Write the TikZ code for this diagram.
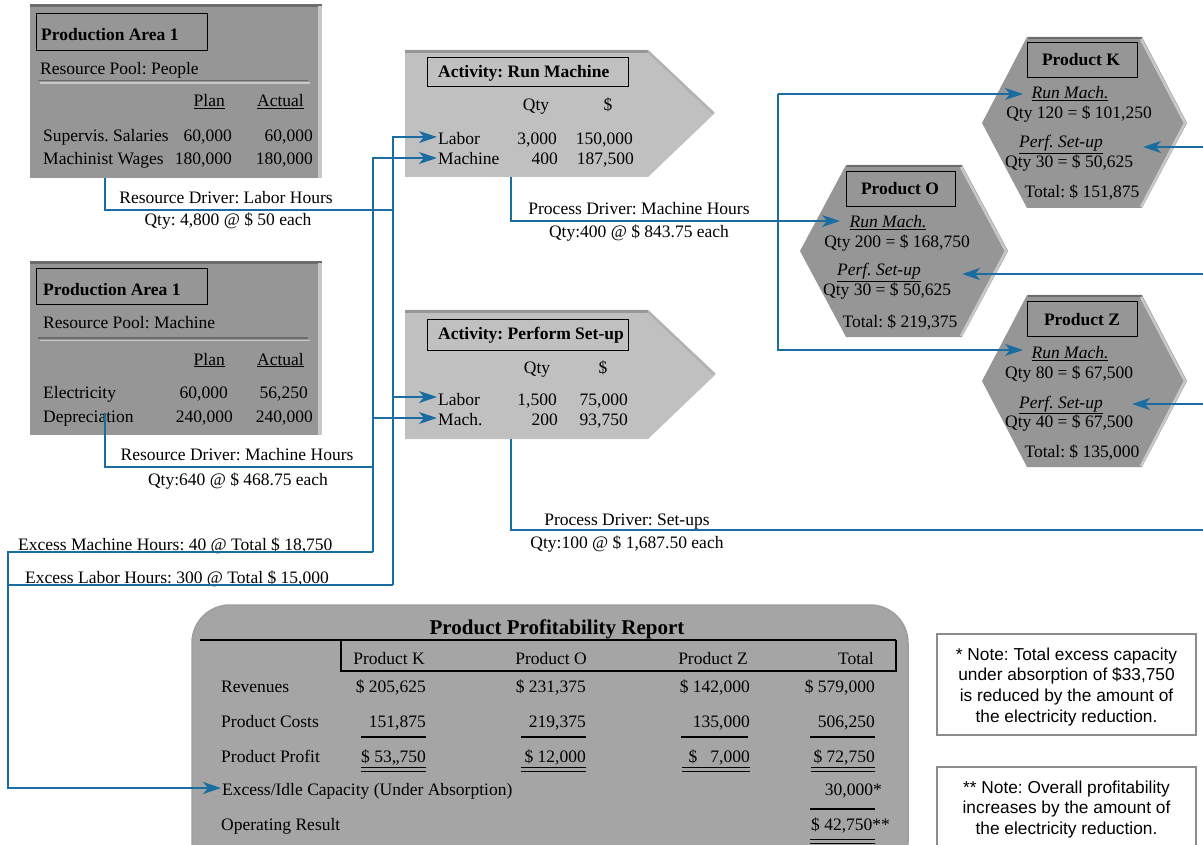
\documentclass[tikz,border=0pt]{standalone}
\usepackage{fontspec}
\setmainfont{Liberation Serif}
\newfontfamily\notefont{Liberation Sans}
\usetikzlibrary{arrows.meta}
\frenchspacing

\definecolor{linkblue}{RGB}{27,108,160}
\definecolor{poolgray}{RGB}{150,150,150}
\definecolor{actgray}{RGB}{192,192,192}
\definecolor{repgray}{RGB}{165,165,165}
\definecolor{edgedark}{RGB}{108,108,108}
\definecolor{edgelight}{RGB}{200,200,200}
\definecolor{actedge}{RGB}{150,150,150}
\definecolor{notegray}{RGB}{140,140,140}

\begin{document}
\begin{tikzpicture}[x=1pt,y=-1pt,
  txt/.style={inner sep=0pt, font=\fontsize{17.5}{21}\selectfont},
  hd/.style={inner sep=0pt, font=\fontsize{17.5}{21}\selectfont\bfseries},
  rep/.style={inner sep=0pt, font=\fontsize{17.5}{21}\selectfont},
  reptitle/.style={inner sep=0pt, font=\fontsize{21}{25}\selectfont\bfseries},
  notetxt/.style={inner sep=0pt, align=center, font=\notefont\fontsize{17.3}{20.7}\selectfont},
  titlebox/.style={draw=black, line width=0.9pt},
  rule/.style={draw=black, line width=1.6pt},
  conn/.style={draw=linkblue, line width=1.8pt},
  arr/.style={conn, -{Stealth[length=18pt,width=12pt,inset=5pt]}},
]
\useasboundingbox (0,0) rectangle (1203,845);
\fill[white] (0,0) rectangle (1203,845);

% ---------- resource pool: people ----------
\fill[poolgray] (30,5) rectangle (322,178);
\fill[edgedark] (30,4) rectangle (322,7);
\fill[edgelight] (318,6) rectangle (322,178);
\draw[titlebox] (36,13) rectangle (207,50);
\node[hd, anchor=base west] (paTitle) at (41,41) {Production Area 1};
\node[txt, anchor=base west] (paPool) at (40,75) {Resource Pool: People};
\draw[edgedark, line width=1.3pt] (38,80.5) -- (308,80.5);
\draw[edgelight, line width=1.3pt] (40,83) -- (310,83);
\node[txt, anchor=base east] (paPlan) at (225,107) {\underline{Plan}};
\node[txt, anchor=base east] (paActual) at (304,107) {\underline{Actual}};
\node[txt, anchor=base west] (paSup) at (43,142) {Supervis. Salaries};
\node[txt, anchor=base east] (paSupP) at (232,142) {60,000};
\node[txt, anchor=base east] (paSupA) at (313,142) {60,000};
\node[txt, anchor=base west] (paMach) at (43,165) {Machinist Wages};
\node[txt, anchor=base east] (paMachP) at (232,165) {180,000};
\node[txt, anchor=base east] (paMachA) at (313,165) {180,000};

% ---------- resource pool: machine ----------
\fill[poolgray] (30,262) rectangle (322,435);
\fill[edgedark] (30,261) rectangle (322,264);
\fill[edgelight] (318,263) rectangle (322,435);
\draw[titlebox] (36,268) rectangle (207,304);
\node[hd, anchor=base west] (pbTitle) at (43,296) {Production Area 1};
\node[txt, anchor=base west] (pbPool) at (43,328) {Resource Pool: Machine};
\draw[edgedark, line width=1.3pt] (38,338) -- (308,338);
\draw[edgelight, line width=1.3pt] (40,340.5) -- (310,340.5);
\node[txt, anchor=base east] (pbPlan) at (225,365) {\underline{Plan}};
\node[txt, anchor=base east] (pbActual) at (304,365) {\underline{Actual}};
\node[txt, anchor=base west] (pbElec) at (43,398) {Electricity};
\node[txt, anchor=base east] (pbElecP) at (228,398) {60,000};
\node[txt, anchor=base east] (pbElecA) at (308,398) {56,250};
\node[txt, anchor=base west] (pbDep) at (43,422) {Depreciation};
\node[txt, anchor=base east] (pbDepP) at (233,422) {240,000};
\node[txt, anchor=base east] (pbDepA) at (313,422) {240,000};

% ---------- activity: run machine ----------
\fill[actgray] (405,50) -- (648,50) -- (715,113) -- (648,177) -- (405,177) -- cycle;
\draw[actedge, line width=3pt] (405,51.5) -- (648,51.5);
\draw[black!30, line width=2.5pt] (648,51.5) -- (713,113);
\draw[titlebox] (427,57) rectangle (628,86);
\node[hd, anchor=base west] (rmTitle) at (438,78) {Activity: Run Machine};
\node[txt, anchor=base] (rmQty) at (536,111) {Qty};
\node[txt, anchor=base] (rmUsd) at (608,111) {\$};
\node[txt, anchor=base west] (rmLabor) at (438,145) {Labor};
\node[txt, anchor=base east] (rmLaborQ) at (557,145) {3,000};
\node[txt, anchor=base east] (rmLaborV) at (633,145) {150,000};
\node[txt, anchor=base west] (rmMach) at (438,165) {Machine};
\node[txt, anchor=base east] (rmMachQ) at (558,165) {400};
\node[txt, anchor=base east] (rmMachV) at (634,165) {187,500};

% ---------- activity: perform set-up ----------
\fill[actgray] (405,310) -- (648,310) -- (716,374) -- (648,439) -- (405,439) -- cycle;
\draw[actedge, line width=3pt] (405,311.5) -- (648,311.5);
\draw[black!30, line width=2.5pt] (648,311.5) -- (714,374);
\draw[titlebox] (427,319) rectangle (628,350);
\node[hd, anchor=base west] (psTitle) at (438,339) {Activity: Perform Set-up};
\node[txt, anchor=base] (psQty) at (537,373) {Qty};
\node[txt, anchor=base] (psUsd) at (603,373) {\$};
\node[txt, anchor=base west] (psLabor) at (438,405) {Labor};
\node[txt, anchor=base east] (psLaborQ) at (557,405) {1,500};
\node[txt, anchor=base east] (psLaborV) at (628,405) {75,000};
\node[txt, anchor=base west] (psMach) at (438,425) {Mach.};
\node[txt, anchor=base east] (psMachQ) at (558,425) {200};
\node[txt, anchor=base east] (psMachV) at (628,425) {93,750};

% ---------- products ----------
\fill[poolgray] (1027,37) -- (1142,37) -- (1187,123) -- (1142,208) -- (1027,208) -- (982,123) -- cycle;
\draw[edgedark, line width=2pt] (1028,38) -- (1142,38);
\draw[edgelight, line width=2.5pt] (1141,39) -- (1185,123) -- (1141,207);
\draw[titlebox] (1027,42) rectangle (1137,77);
\node[hd, anchor=base] (kTitle) at (1081,66) {Product K};
\node[txt, anchor=base] (kRun) at (1070,99) {\underline{\textit{Run Mach.}}};
\node[txt, anchor=base] (kRunV) at (1079,119) {Qty 120 = \$ 101,250};
\node[txt, anchor=base] (kSet) at (1061,148) {\underline{\textit{Perf. Set-up}}};
\node[txt, anchor=base west] (kSetV) at (1005,168) {Qty 30 = \$ 50,625};
\node[txt, anchor=base] (kTot) at (1082,198) {Total: \$ 151,875};

\fill[poolgray] (846,165) -- (962,165) -- (1008,251) -- (962,337) -- (846,337) -- (800,251) -- cycle;
\draw[edgedark, line width=2pt] (847,166) -- (962,166);
\draw[edgelight, line width=2.5pt] (961,167) -- (1006,251) -- (961,336);
\draw[titlebox] (846,171) rectangle (955,206);
\node[hd, anchor=base] (oTitle) at (900,195) {Product O};
\node[txt, anchor=base] (oRun) at (888,228) {\underline{\textit{Run Mach.}}};
\node[txt, anchor=base] (oRunV) at (897,248) {Qty 200 = \$ 168,750};
\node[txt, anchor=base] (oSet) at (879,276) {\underline{\textit{Perf. Set-up}}};
\node[txt, anchor=base west] (oSetV) at (823,296) {Qty 30 = \$ 50,625};
\node[txt, anchor=base] (oTot) at (900,327) {Total: \$ 219,375};

\fill[poolgray] (1027,295) -- (1142,295) -- (1187,381) -- (1142,467) -- (1027,467) -- (982,381) -- cycle;
\draw[edgedark, line width=2pt] (1028,296) -- (1142,296);
\draw[edgelight, line width=2.5pt] (1141,297) -- (1185,381) -- (1141,466);
\draw[titlebox] (1027,301) rectangle (1137,336);
\node[hd, anchor=base] (zTitle) at (1082,325) {Product Z};
\node[txt, anchor=base] (zRun) at (1070,359) {\underline{\textit{Run Mach.}}};
\node[txt, anchor=base west] (zRunV) at (1005,378) {Qty 80 = \$ 67,500};
\node[txt, anchor=base] (zSet) at (1061,408) {\underline{\textit{Perf. Set-up}}};
\node[txt, anchor=base west] (zSetV) at (1005,427) {Qty 40 = \$ 67,500};
\node[txt, anchor=base] (zTot) at (1082,457) {Total: \$ 135,000};

% ---------- driver labels ----------
\node[txt, anchor=base] (drvLab) at (226,204) {Resource Driver: Labor Hours};
\node[txt, anchor=base] (drvLabQ) at (228,226) {Qty: 4,800 @ \$ 50 each};
\node[txt, anchor=base] (drvMac) at (237,460) {Resource Driver: Machine Hours};
\node[txt, anchor=base] (drvMacQ) at (238,485) {Qty:640 @ \$ 468.75 each};
\node[txt, anchor=base] (prcMac) at (639,215) {Process Driver: Machine Hours};
\node[txt, anchor=base] (prcMacQ) at (639,238) {Qty:400 @ \$ 843.75 each};
\node[txt, anchor=base] (prcSet) at (627,525) {Process Driver: Set-ups};
\node[txt, anchor=base] (prcSetQ) at (627,548) {Qty:100 @ \$ 1,687.50 each};
\node[txt, anchor=base west] (excMac) at (18,550) {Excess Machine Hours: 40 @ Total \$ 18,750};
\node[txt, anchor=base west] (excLab) at (25,583) {Excess Labor Hours: 300 @ Total \$ 15,000};

% ---------- report ----------
\filldraw[fill=repgray, draw=black!38, line width=1.5pt, rounded corners=38pt] (192,605) rectangle (908,880);
\node[reptitle, anchor=base] (repTitle) at (557,634) {Product Profitability Report};
\draw[rule] (200,640) -- (896,640);
\draw[rule] (341,640) -- (341,671) -- (896,671) -- (896,640);
\node[rep, anchor=base] (hK) at (389,664) {Product K};
\node[rep, anchor=base] (hO) at (551,664) {Product O};
\node[rep, anchor=base] (hZ) at (713,664) {Product Z};
\node[rep, anchor=base east] (hT) at (874,664) {Total};

\node[rep, anchor=base west] (rRev) at (221,692) {Revenues};
\node[rep, anchor=base east] (rRevK) at (426,692) {\$ 205,625};
\node[rep, anchor=base east] (rRevO) at (586,692) {\$ 231,375};
\node[rep, anchor=base east] (rRevZ) at (750,692) {\$ 142,000};
\node[rep, anchor=base east] (rRevT) at (875,692) {\$ 579,000};

\node[rep, anchor=base west] (rCost) at (221,727) {Product Costs};
\node[rep, anchor=base east] (rCostK) at (426,727) {151,875};
\node[rep, anchor=base east] (rCostO) at (586,727) {219,375};
\node[rep, anchor=base east] (rCostZ) at (750,727) {135,000};
\node[rep, anchor=base east] (rCostT) at (875,727) {506,250};
\draw[rule] (361,737) -- (426,737) (521,737) -- (586,737) (681,737) -- (748,737) (810,737) -- (875,737);

\node[rep, anchor=base west] (rProf) at (221,762) {Product Profit};
\node[rep, anchor=base east] (rProfK) at (426,762) {\$ 53,,750};
\node[rep, anchor=base east] (rProfO) at (586,762) {\$ 12,000};
\node[rep, anchor=base east] (rProfZ) at (750,762) {\$\hspace{13pt}7,000};
\node[rep, anchor=base east] (rProfT) at (875,762) {\$ 72,750};
\foreach \yy in {767.5,771.5}
  \draw[black, line width=1.3pt] (361,\yy) -- (426,\yy) (521,\yy) -- (586,\yy) (682,\yy) -- (750,\yy) (811,\yy) -- (875,\yy);

\node[rep, anchor=base west] (rExcess) at (222,795) {Excess/Idle Capacity (Under Absorption)};
\node[rep, anchor=base east] (rExcessT) at (882,795) {30,000*};
\draw[rule] (810,809) -- (875,809);
\node[rep, anchor=base west] (rOper) at (221,830) {Operating Result};
\node[rep, anchor=base west] (rOperT) at (811,830) {\$ 42,750**};
\foreach \yy in {839.5,843.5}
  \draw[black, line width=1.3pt] (810,\yy) -- (875,\yy);

% ---------- notes ----------
\draw[notegray, line width=1.3pt] (937,634) rectangle (1196,735);
\node[notetxt, anchor=north] (note1) at (1066.5,647.5) {* Note: Total excess capacity\\under absorption of \$33,750\\is reduced by the amount of\\the electricity reduction.};
\draw[notegray, line width=1.3pt] (937,767) rectangle (1196,880);
\node[notetxt, anchor=north] (note2) at (1066.5,780.5) {** Note: Overall profitability\\increases by the amount of\\the electricity reduction.};

% ---------- connector junctions and arrow tips ----------
\coordinate (paOut) at (105,178);
\coordinate (pbOut) at (105,413);
\coordinate (labJoin) at (393,210);
\coordinate (macJoin) at (373,467);
\coordinate (labBus) at (393,585);
\coordinate (macBus) at (373,552);
\coordinate (excBus) at (8,552);
\coordinate (rmLaborIn) at (437,137);
\coordinate (rmMachIn) at (437,158);
\coordinate (psLaborIn) at (437,397);
\coordinate (psMachIn) at (437,418);
\coordinate (excIn) at (221,788);
\coordinate (rmOut) at (511,177);
\coordinate (psOut) at (511,439);
\coordinate (runBus) at (778,221);
\coordinate (setBus) at (1212,530);
\coordinate (kRunIn) at (1023,94);
\coordinate (oRunIn) at (840,221);
\coordinate (zRunIn) at (1023,350);
\coordinate (kSetIn) at (1143,147);
\coordinate (oSetIn) at (962,274);
\coordinate (zSetIn) at (1132,404);

% resource drivers into the activities
\draw[conn] (paOut) |- (labJoin);
\draw[conn] (pbOut) |- (macJoin);
\draw[arr] (labBus) |- (rmLaborIn);
\draw[arr] (labBus |- psLaborIn) -- (psLaborIn);
\draw[arr] (macBus) |- (rmMachIn);
\draw[arr] (macBus |- psMachIn) -- (psMachIn);

% unused capacity into the report
\draw[arr] (macBus) -- (excBus) |- (excIn);
\draw[conn] (labBus) -- (excBus |- labBus);

% process drivers into the products
\draw[arr] (rmOut) |- (oRunIn);
\draw[arr] (runBus |- kRunIn) -- (runBus |- zRunIn) -- (zRunIn);
\draw[arr] (runBus |- kRunIn) -- (kRunIn);
\draw[conn] (psOut) |- (setBus);
\draw[conn] (setBus) -- (setBus |- kSetIn);
\draw[arr] (setBus |- kSetIn) -- (kSetIn);
\draw[arr] (setBus |- oSetIn) -- (oSetIn);
\draw[arr] (setBus |- zSetIn) -- (zSetIn);
\end{tikzpicture}
\end{document}
